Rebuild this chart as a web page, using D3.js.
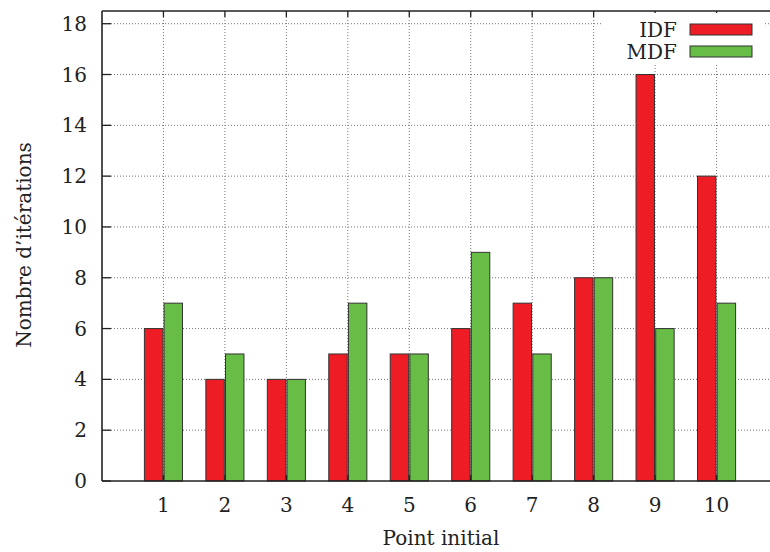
<!DOCTYPE html>
<html>
<head>
<meta charset="utf-8">
<script src="https://cdn.jsdelivr.net/npm/d3@7"></script>
<style>
  body { margin: 0; background: #fff; }
  svg text { font-family: "DejaVu Serif", serif; fill: #222; }
</style>
</head>
<body>
<svg width="770" height="552"></svg>
<script>
// data
var points = [1, 2, 3, 4, 5, 6, 7, 8, 9, 10];
var idf = [6, 4, 4, 5, 5, 6, 7, 8, 16, 12];
var mdf = [7, 5, 4, 7, 5, 9, 5, 8, 6, 7];
var yTicks = [0, 2, 4, 6, 8, 10, 12, 14, 16, 18];
var seriesNames = ['IDF', 'MDF'];
var seriesColors = ['#ee1c24', '#67bd45'];

var svg = d3.select('svg');
var pLeft = 102, pRight = 778, pTop = 11, pBottom = 481;

var x = d3.scaleLinear().domain([0, 11]).range([pLeft, pRight]);
var y = d3.scaleLinear().domain([0, 18.5]).range([pBottom, pTop]);
var fs = 20;

// grid
var grid = svg.append('g');
grid.selectAll('line.h')
  .data(yTicks.filter(function(d) { return d > 0; }))
  .enter().append('line')
  .attr('x1', pLeft).attr('x2', pRight)
  .attr('y1', function(d) { return y(d); })
  .attr('y2', function(d) { return y(d); })
  .style('stroke', '#777').style('stroke-width', 1)
  .style('stroke-dasharray', '1,2');
grid.selectAll('line.v')
  .data(points)
  .enter().append('line')
  .attr('y1', pTop).attr('y2', pBottom)
  .attr('x1', function(d) { return x(d); })
  .attr('x2', function(d) { return x(d); })
  .style('stroke', '#777').style('stroke-width', 1)
  .style('stroke-dasharray', '1,2');

// bars
var bw = 0.3;
var bars = svg.append('g');
[idf, mdf].forEach(function(vals, s) {
  bars.selectAll('rect.s' + s)
    .data(vals)
    .enter().append('rect')
    .attr('x', function(d, i) { return s == 0 ? x(points[i] - bw - 0.01) : x(points[i] + 0.01); })
    .attr('width', x(bw) - x(0))
    .attr('y', function(d) { return y(d); })
    .attr('height', function(d) { return y(0) - y(d); })
    .style('fill', seriesColors[s])
    .style('stroke', '#333')
    .style('stroke-width', 1);
});

// frame
var frame = svg.append('g').style('stroke', '#222').style('stroke-width', 1.6);
frame.append('line').attr('x1', pLeft).attr('x2', pRight).attr('y1', pTop).attr('y2', pTop);
frame.append('line').attr('x1', pLeft).attr('x2', pRight).attr('y1', pBottom).attr('y2', pBottom);
frame.append('line').attr('x1', pLeft).attr('x2', pLeft).attr('y1', pTop).attr('y2', pBottom);

// ticks
var ticks = svg.append('g').style('stroke', '#222').style('stroke-width', 1.3);
yTicks.forEach(function(t) {
  ticks.append('line').attr('x1', pLeft).attr('x2', pLeft + 9).attr('y1', y(t)).attr('y2', y(t));
});
points.forEach(function(p) {
  ticks.append('line').attr('x1', x(p)).attr('x2', x(p)).attr('y1', pTop).attr('y2', pTop + 6);
  ticks.append('line').attr('x1', x(p)).attr('x2', x(p)).attr('y1', pBottom).attr('y2', pBottom - 6);
});

// tick labels
svg.append('g').selectAll('text')
  .data(yTicks)
  .enter().append('text')
  .attr('x', 87)
  .attr('y', function(d) { return y(d) + 7; })
  .attr('text-anchor', 'end')
  .style('font-size', fs + 'px')
  .text(function(d) { return d; });
svg.append('g').selectAll('text')
  .data(points)
  .enter().append('text')
  .attr('x', function(d) { return x(d); })
  .attr('y', 512)
  .attr('text-anchor', 'middle')
  .style('font-size', fs + 'px')
  .text(function(d) { return d; });

// axis titles
svg.append('text')
  .attr('x', 441).attr('y', 545)
  .attr('text-anchor', 'middle')
  .style('font-size', fs + 'px')
  .text('Point initial');
svg.append('text')
  .attr('transform', 'translate(31,245) rotate(-90)')
  .attr('text-anchor', 'middle')
  .style('font-size', fs + 'px')
  .text('Nombre d\u2019itérations');

// legend
var legend = svg.append('g');
legend.append('rect')
  .attr('x', 603).attr('y', 13).attr('width', 160).attr('height', 50)
  .style('fill', '#fff');
seriesNames.forEach(function(name, i) {
  var cy = 29.5 + i * 22;
  legend.append('text')
    .attr('x', 677).attr('y', cy + 7)
    .attr('text-anchor', 'end')
    .style('font-size', fs + 'px')
    .text(name);
  legend.append('rect')
    .attr('x', 690).attr('y', cy - 5.5)
    .attr('width', 62).attr('height', 11)
    .style('fill', seriesColors[i])
    .style('stroke', '#333').style('stroke-width', 1);
});
</script>
</body>
</html>
